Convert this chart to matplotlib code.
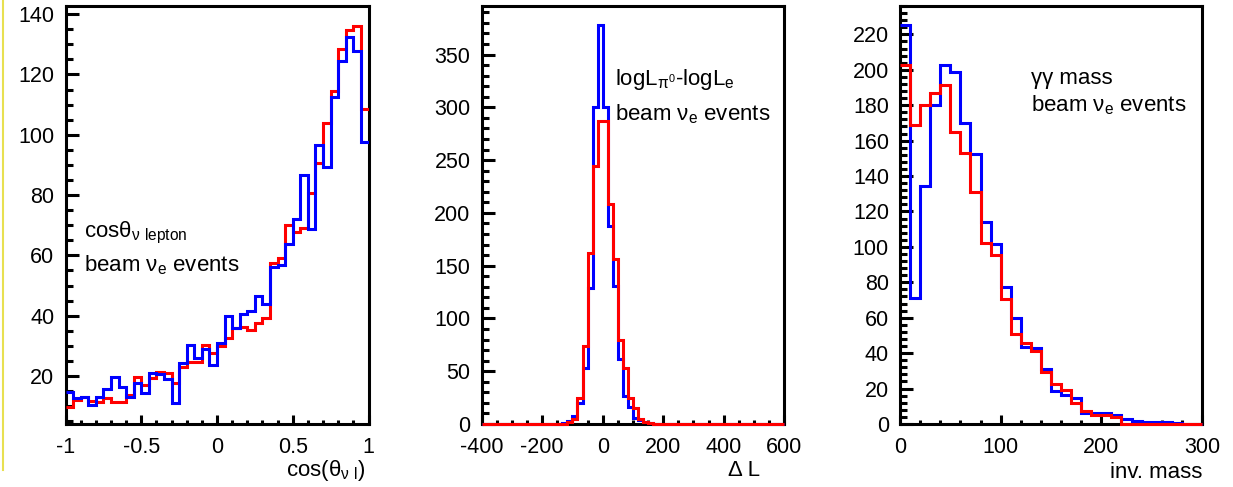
import numpy as np
import matplotlib
matplotlib.use("Agg")
import matplotlib.pyplot as plt
from matplotlib.lines import Line2D
from matplotlib.ticker import MultipleLocator, FuncFormatter

plt.rcParams["font.family"] = ["Liberation Sans", "DejaVu Sans"]
plt.rcParams["mathtext.default"] = "regular"
plt.rcParams["axes.unicode_minus"] = False

W, H = 1233, 487

# cos(theta) of the lepton, 40 bins from -1 to 1
cos_blue = [14.8, 12.8, 13.1, 10.4, 13.1, 15.6, 19.6, 16.5, 13.1, 17.6,
            14.3, 21.1, 20.7, 18.9, 11.1, 24.4, 30.3, 25.9, 28.9, 23.6,
            31.0, 39.9, 35.8, 40.6, 41.6, 46.5, 43.8, 56.3, 56.8, 63.7,
            72.0, 86.7, 68.7, 96.6, 89.4, 112.4, 124.5, 132.3, 127.9, 97.7]
cos_red = [9.8, 12.0, 13.1, 11.8, 11.5, 12.6, 11.5, 11.5, 13.7, 19.6,
           17.0, 19.2, 21.4, 21.1, 17.6, 23.1, 24.7, 24.7, 30.3, 27.7,
           29.9, 32.5, 35.8, 36.4, 35.3, 37.5, 39.1, 57.4, 59.0, 70.1,
           67.9, 69.0, 80.8, 90.7, 103.8, 114.6, 128.4, 134.8, 136.1, 108.5]

# logL(pi0) - logL(e), 60 bins from -400 to 600
dl_blue = [0, 0, 0, 0, 0, 0, 0, 0, 0, 0,
           0, 0, 0, 0, 0, 0, 1, 3, 8, 20,
           53, 129, 300, 378, 300, 188, 131, 62, 27, 16,
           6, 4, 2, 1, 0, 0, 0, 0, 0, 0,
           0, 0, 0, 0, 0, 0, 0, 0, 0, 0,
           0, 0, 0, 0, 0, 0, 0, 0, 0, 0]
dl_red = [0, 0, 0, 0, 0, 0, 0, 0, 0, 0,
          0, 0, 0, 0, 0, 0, 0, 2, 5, 25,
          74, 162, 244, 287, 287, 208, 156, 80, 53, 25,
          15, 5, 2, 1, 0, 0, 0, 0, 0, 0,
          0, 0, 0, 0, 0, 0, 0, 0, 0, 0,
          0, 0, 0, 0, 0, 0, 0, 0, 0, 0]

# gamma-gamma invariant mass, 30 bins from 0 to 300
mass_blue = [225.5, 70.9, 134.6, 180.0, 202.6, 198.7, 169.9, 152.4, 114.3, 101.8,
             77.4, 59.6, 43.7, 43.1, 31.1, 18.5, 16.5, 14.6, 6.2, 6.0,
             6.2, 5.0, 3.0, 1.5, 1.0, 1.0, 1.0, 0.5, 0, 0]
mass_red = [202.6, 168.7, 180.0, 186.7, 191.2, 164.6, 153.0, 131.2, 102.4, 95.3,
            70.3, 50.6, 45.6, 41.2, 29.2, 22.5, 19.3, 11.8, 7.1, 5.0,
            5.2, 3.8, 0, 0, 0, 0, 0, 0, 0, 0]

BLUE = "#0000ff"
RED = "#ff0000"


def px(x, y):
    return x / W, 1 - y / H


def style(ax, xmaj, xmin, ymaj, ymin):
    ax.xaxis.set_major_locator(MultipleLocator(xmaj))
    ax.xaxis.set_minor_locator(MultipleLocator(xmin))
    ax.yaxis.set_major_locator(MultipleLocator(ymaj))
    ax.yaxis.set_minor_locator(MultipleLocator(ymin))
    ax.xaxis.set_major_formatter(FuncFormatter(lambda v, p: "%g" % round(v, 6)))
    ax.tick_params(which="both", direction="in", top=False, right=False,
                   width=2.2, labelsize=15.5)
    ax.tick_params(axis="y", which="major", length=9.5, pad=8)
    ax.tick_params(axis="y", which="minor", length=5)
    ax.tick_params(axis="x", which="major", length=6.5, pad=9.5)
    ax.tick_params(axis="x", which="minor", length=3.2)
    for s in ax.spines.values():
        s.set_linewidth(2.2)


fig = plt.figure(figsize=(W / 100, H / 100), dpi=100)
bottom, height = 1 - 424 / H, 418 / H

ax1 = fig.add_axes([65.5 / W, bottom, 303 / W, height])
ax2 = fig.add_axes([481.7 / W, bottom, 302.5 / W, height])
ax3 = fig.add_axes([900 / W, bottom, 302 / W, height])

# panel 1
edges = np.linspace(-1, 1, len(cos_red) + 1)
ax1.stairs(cos_red, edges, baseline=None, color=RED, lw=2.2, zorder=3)
ax1.stairs(cos_blue, edges, baseline=None, color=BLUE, lw=2.2, zorder=3.1)
ax1.set_xlim(-1, 1)
ax1.set_ylim(4.1, 142.7)
style(ax1, 0.5, 0.1, 20, 5)

# panel 2
edges = np.linspace(-400, 600, len(dl_red) + 1)
ax2.stairs(dl_blue, edges, baseline=None, color=BLUE, lw=2.2, zorder=3, clip_on=False)
ax2.stairs(dl_red, edges, baseline=None, color=RED, lw=2.2, zorder=3.1, clip_on=False)
ax2.set_xlim(-400, 600)
ax2.set_ylim(0, 396)
style(ax2, 200, 50, 50, 10)

# panel 3
edges = np.linspace(0, 300, len(mass_red) + 1)
ax3.stairs(mass_blue, edges, baseline=None, color=BLUE, lw=2.2, zorder=3, clip_on=False)
ax3.stairs(mass_red, edges, baseline=None, color=RED, lw=2.2, zorder=3.1, clip_on=False)
ax3.set_xlim(0, 300)
ax3.set_ylim(0, 236)
style(ax3, 100, 20, 20, 4)

fs = 16
fig.text(*px(84, 237), r"cos$θ_{ν\ lepton}$", fontsize=fs, va="baseline")
fig.text(*px(84, 271), r"beam ν$_e$ events", fontsize=fs, va="baseline")
fig.text(*px(615, 85), r"logL$_{π^0}$-logL$_e$", fontsize=fs, va="baseline")
fig.text(*px(615, 120), r"beam ν$_e$ events", fontsize=fs, va="baseline")
fig.text(*px(1031, 84), "γγ mass", fontsize=fs, va="baseline")
fig.text(*px(1031, 111), r"beam ν$_e$ events", fontsize=fs, va="baseline")

fig.text(*px(366, 476), r"cos(θ$_{ν\ l}$)", fontsize=fs, va="baseline", ha="right")
fig.text(*px(760, 476), "Δ L", fontsize=fs, va="baseline", ha="right")
fig.text(*px(1202, 478), "inv. mass", fontsize=fs, va="baseline", ha="right")

fig.add_artist(Line2D([3 / W, 3 / W], [1, 1 - 470 / H], color="#e8e050",
                      lw=1.5, transform=fig.transFigure))

fig.savefig("out.png", dpi=100)
